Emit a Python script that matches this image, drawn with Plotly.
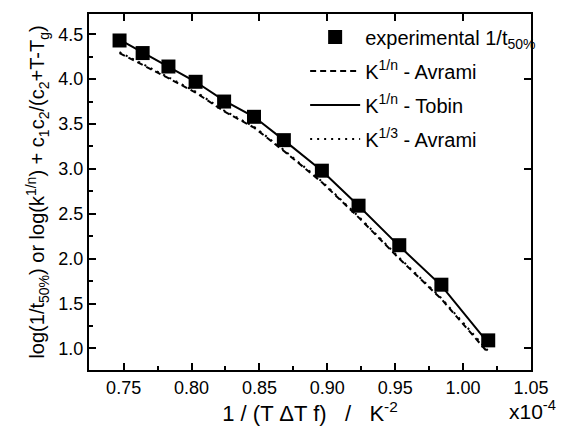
import plotly.graph_objects as go

# data (x in units of 1e-4 K^-2)
x_exp = [0.747, 0.764, 0.783, 0.803, 0.824, 0.846, 0.868, 0.896, 0.923, 0.953, 0.984, 1.0185]
y_exp = [4.43, 4.29, 4.14, 3.97, 3.75, 3.58, 3.32, 2.98, 2.59, 2.15, 1.71, 1.09]

x_fit = [0.747, 0.764, 0.783, 0.803, 0.824, 0.846, 0.868, 0.896, 0.923, 0.953, 0.984, 1.0185]
y_tobin = [4.44, 4.30, 4.14, 3.97, 3.76, 3.58, 3.32, 2.98, 2.59, 2.14, 1.70, 1.06]
y_avrami = [4.29, 4.16, 4.01, 3.85, 3.64, 3.46, 3.20, 2.85, 2.46, 2.00, 1.55, 0.95]
y_avrami13 = [4.30, 4.17, 4.02, 3.86, 3.65, 3.47, 3.21, 2.86, 2.47, 2.01, 1.56, 0.97]

x_range = [0.7245, 1.05]
y_range = [0.76, 4.725]

FONT = "Liberation Sans, Arial, sans-serif"
NB = "\u00a0"

fig = go.Figure()
fig.add_trace(go.Scatter(x=x_exp, y=y_exp, mode="markers",
                         marker=dict(symbol="square", size=14, color="black"),
                         name="experimental 1/t<sub>50%</sub>", legendgroup="a"))
fig.add_trace(go.Scatter(x=x_fit, y=y_avrami, mode="lines",
                         line=dict(color="black", width=2, dash="6px,4px"),
                         name="K<sup>1/n</sup> - Avrami", legendgroup="b"))
fig.add_trace(go.Scatter(x=x_fit, y=y_tobin, mode="lines",
                         line=dict(color="black", width=2),
                         name="K<sup>1/n</sup> - Tobin", legendgroup="c"))
fig.add_trace(go.Scatter(x=x_fit, y=y_avrami13, mode="lines",
                         line=dict(color="black", width=2, dash="2px,5px"),
                         name="K<sup>1/3</sup> - Avrami", legendgroup="d"))
# invisible trace to anchor the secondary (top/right) axes
fig.add_trace(go.Scatter(x=[x_range[0]], y=[y_range[0]], xaxis="x2", yaxis="y2",
                         mode="markers", marker=dict(opacity=0), showlegend=False,
                         hoverinfo="skip"))

x_title = "1 / (T \u0394T f)" + NB * 3 + "/" + NB * 3 + "K<sup>-2</sup>"

fig.update_layout(
    width=561, height=429,
    margin=dict(l=89, r=18, t=13, b=59),
    paper_bgcolor="white", plot_bgcolor="white",
    font=dict(family=FONT, color="black", size=18),
    xaxis=dict(range=x_range, showgrid=False, zeroline=False,
               showline=True, linecolor="black", linewidth=2, mirror=True,
               ticks="inside", ticklen=7, tickwidth=1.5, tickcolor="black",
               tick0=0.75, dtick=0.05, tickformat=".2f",
               minor=dict(ticks="inside", ticklen=4, tickwidth=1.5, tickcolor="black", dtick=0.025, tick0=0.75),
               tickfont=dict(size=18),
               title=dict(text=x_title, font=dict(size=22), standoff=4)),
    yaxis=dict(range=y_range, showgrid=False, zeroline=False,
               showline=True, linecolor="black", linewidth=2, mirror=True,
               ticks="inside", ticklen=7, tickwidth=1.5, tickcolor="black",
               tick0=1.0, dtick=0.5, tickformat=".1f",
               minor=dict(ticks="inside", ticklen=4, tickwidth=1.5, tickcolor="black", dtick=0.25, tick0=1.0),
               tickfont=dict(size=18),
               title=dict(text="log(1/t<sub>50%</sub>) or log(k<sup>1/n</sup>) + c<sub>1</sub>c<sub>2</sub>/(c<sub>2</sub>+T-T<sub>g</sub>)",
                          font=dict(size=20), standoff=8)),
    xaxis2=dict(range=x_range, overlaying="x", side="top", anchor="y2",
                showgrid=False, zeroline=False, showticklabels=False,
                ticks="inside", ticklen=7, tickwidth=1.5, tickcolor="black",
                tick0=0.75, dtick=0.05),
    yaxis2=dict(range=y_range, overlaying="y", side="right", anchor="x2",
                showgrid=False, zeroline=False, showticklabels=False,
                ticks="inside", ticklen=7, tickwidth=1.5, tickcolor="black",
                tick0=1.0, dtick=1.0),
    legend=dict(x=0.489, y=0.99, xanchor="left", yanchor="top",
                bgcolor="rgba(0,0,0,0)", font=dict(size=20),
                traceorder="grouped", tracegroupgap=5, itemwidth=50),
    showlegend=True,
)

fig.add_annotation(text="x10<sup>-4</sup>", xref="paper", yref="paper",
                   x=1.06, y=-0.112, xanchor="right", yanchor="middle",
                   showarrow=False, font=dict(size=21))

fig.write_html("out.html")
